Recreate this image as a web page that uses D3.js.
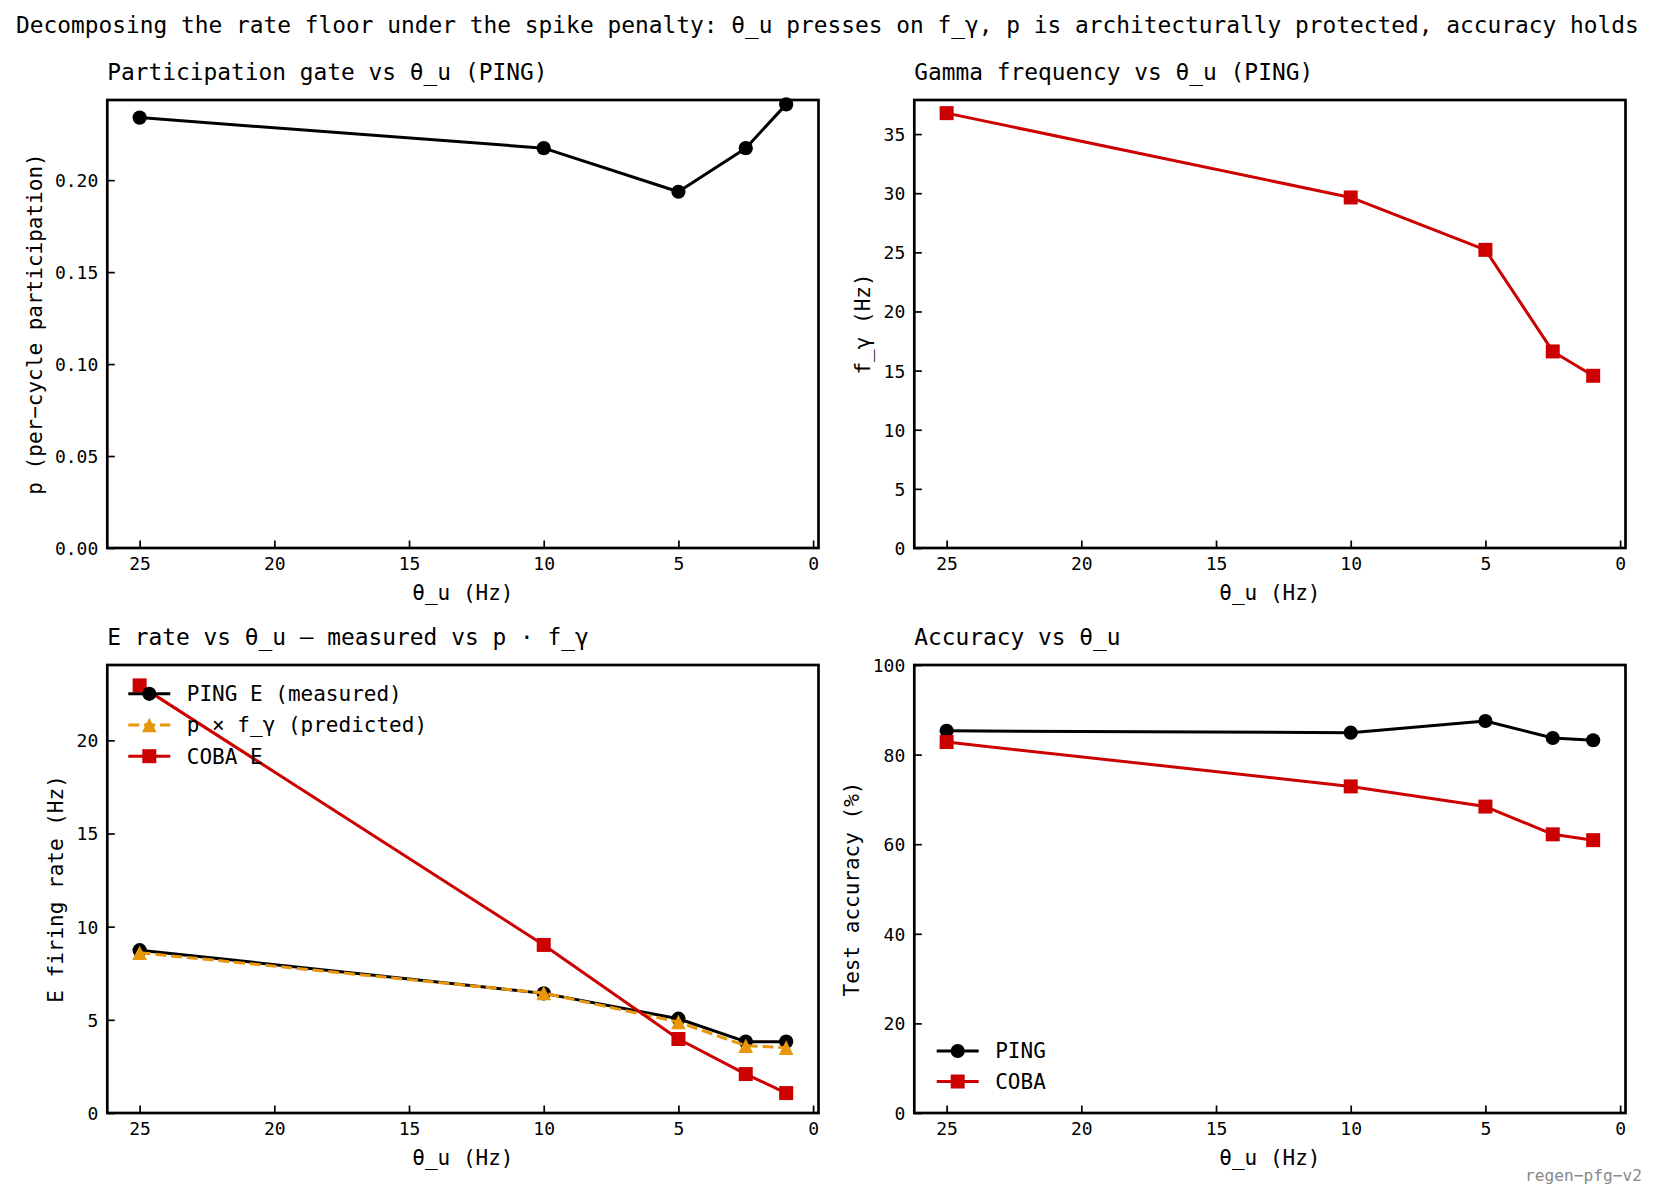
<!DOCTYPE html>
<html>
<head>
<meta charset="utf-8">
<script src="https://cdn.jsdelivr.net/npm/d3@7"></script>
<style>
  html, body { margin: 0; padding: 0; background: #fff; }
  svg text { font-family: "DejaVu Sans Mono", monospace; fill: #000; }
</style>
</head>
<body>
<svg id="chart" width="1658" height="1200"></svg>
<script>
// ---------------- data ----------------
const thetaU = [25, 10, 5, 2.5, 1];
const pingP = [0.234, 0.2174, 0.1937, 0.2174, 0.2412];
const pingFgamma = [36.77, 29.64, 25.21, 16.62, 14.56];
const pingERate = [8.74, 6.42, 5.06, 3.83, 3.83];
const predictedERate = [8.60, 6.44, 4.88, 3.61, 3.51];
const cobaERate = [22.95, 9.02, 3.97, 2.09, 1.07];
const pingAcc = [85.3, 84.9, 87.5, 83.7, 83.2];
const cobaAcc = [82.8, 72.9, 68.4, 62.2, 60.9];

const xTicks = [0, 5, 10, 15, 20, 25];
const pTicks = [0, 0.05, 0.10, 0.15, 0.20];
const fTicks = [0, 5, 10, 15, 20, 25, 30, 35];
const rateTicks = [0, 5, 10, 15, 20];
const accTicks = [0, 20, 40, 60, 80, 100];

const suptitle = "Decomposing the rate floor under the spike penalty: θ_u presses on f_γ, p is architecturally protected, accuracy holds";
const titles = [
  "Participation gate vs θ_u (PING)",
  "Gamma frequency vs θ_u (PING)",
  "E rate vs θ_u — measured vs p · f_γ",
  "Accuracy vs θ_u"
];
const yLabels = ["p (per−cycle participation)", "f_γ (Hz)", "E firing rate (Hz)", "Test accuracy (%)"];
const xLabel = "θ_u (Hz)";
const watermark = "regen−pfg−v2";

// ---------------- styles ----------------
const BLACK = "#000000", RED = "#cc0000", ORANGE = "#e8960a";
const FONT_TITLE = 22.85, FONT_LABEL = 21, FONT_TICK = 18, FONT_LEG = 21;
const LW = 3;
const DASH = "11,4.8";

const svg = d3.select("#chart");

// autoscale top like matplotlib (bottom fixed at 0, 5% margin)
function autoTop(arrs) {
  const all = arrs.flat();
  const mn = d3.min(all), mx = d3.max(all);
  return mx + 0.05 * (mx - mn);
}

const cols = [107.3, 914.3];
const rows = [100, 665];
const W = 711.2, H = 448;

function markerPath(kind) {
  if (kind === "circle") return d3.symbol().type(d3.symbolCircle).size(Math.PI * 7.1 * 7.1)();
  if (kind === "square") return "M-7,-7H7V7H-7Z";
  if (kind === "triangle") return "M0,-7.3L7.3,7.3L-7.3,7.3Z";
}

function panel(idx, yDomain, yTicks, yFmt, series, legend) {
  const left = cols[idx % 2], top = rows[Math.floor(idx / 2)];
  const g = svg.append("g").attr("transform", `translate(${left},${top})`);
  const x = d3.scaleLinear().domain([26.2, -0.2]).range([0, W]);
  const y = d3.scaleLinear().domain(yDomain).range([H, 0]);

  // x axis
  const xa = g.append("g").attr("transform", `translate(0,${H})`)
    .call(d3.axisBottom(x).tickValues(xTicks).tickSize(-7.5).tickPadding(0).tickFormat(d3.format("d")));
  xa.select(".domain").remove();
  xa.selectAll("line").attr("stroke", "#000").attr("stroke-width", 1.7);
  xa.selectAll("text").attr("font-size", FONT_TICK).attr("dy", null).attr("y", 22.4)
    .attr("font-family", "DejaVu Sans Mono");

  // y axis
  const ya = g.append("g")
    .call(d3.axisLeft(y).tickValues(yTicks).tickSize(-7.5).tickPadding(0).tickFormat(yFmt));
  ya.select(".domain").remove();
  ya.selectAll("line").attr("stroke", "#000").attr("stroke-width", 1.7);
  ya.selectAll("text").attr("font-size", FONT_TICK).attr("x", -9).attr("dy", "0.36em")
    .attr("font-family", "DejaVu Sans Mono");

  // frame
  g.append("rect").attr("x", 0).attr("y", 0).attr("width", W).attr("height", H)
    .attr("fill", "none").attr("stroke", "#000").attr("stroke-width", 2.7);

  // series
  series.forEach(s => {
    const line = d3.line().x((d, i) => x(thetaU[i])).y(d => y(d));
    g.append("path").datum(s.values).attr("d", line)
      .attr("fill", "none").attr("stroke", s.color).attr("stroke-width", LW)
      .attr("stroke-dasharray", s.dash ? DASH : null)
      .attr("stroke-linejoin", "round");
    g.selectAll(null).data(s.values).enter().append("path")
      .attr("d", markerPath(s.marker))
      .attr("transform", (d, i) => `translate(${x(thetaU[i])},${y(d)})`)
      .attr("fill", s.color);
  });

  // title
  g.append("text").attr("x", 0).attr("y", -20.5).attr("font-size", FONT_TITLE).text(titles[idx]);
  // x label
  g.append("text").attr("x", W / 2).attr("y", H + 52).attr("text-anchor", "middle")
    .attr("font-size", FONT_LABEL).text(xLabel);
  // y label placed next to tick labels
  const bb = ya.node().getBBox();
  const yl = bb.x - 13.4;
  g.append("text").attr("transform", `translate(${yl},${H / 2}) rotate(-90)`)
    .attr("text-anchor", "middle").attr("font-size", FONT_LABEL).text(yLabels[idx]);

  // legend
  if (legend) {
    legend.items.forEach((it, k) => {
      const ry = legend.rowY(k);
      const lg = g.append("g").attr("transform", `translate(${legend.x},${ry})`);
      lg.append("line").attr("x1", 0).attr("x2", 42).attr("y1", 0).attr("y2", 0)
        .attr("stroke", it.color).attr("stroke-width", LW)
        .attr("stroke-dasharray", it.dash ? DASH : null);
      lg.append("path").attr("d", markerPath(it.marker)).attr("transform", "translate(21,0)")
        .attr("fill", it.color);
      lg.append("text").attr("x", 58.5).attr("y", 0).attr("dy", "0.35em")
        .attr("font-size", FONT_LEG).text(it.label);
    });
  }
}

const fmt2 = d3.format(".2f"), fmtD = d3.format("d");

panel(0, [0, autoTop([pingP])], pTicks, fmt2,
  [{ values: pingP, color: BLACK, marker: "circle" }]);
panel(1, [0, autoTop([pingFgamma])], fTicks, fmtD,
  [{ values: pingFgamma, color: RED, marker: "square" }]);

const s3 = [
  { values: pingERate, color: BLACK, marker: "circle", label: "PING E (measured)" },
  { values: predictedERate, color: ORANGE, marker: "triangle", dash: true, label: "p × f_γ (predicted)" },
  { values: cobaERate, color: RED, marker: "square", label: "COBA E" }
];
panel(2, [0, autoTop([pingERate, predictedERate, cobaERate])], rateTicks, fmtD, s3,
  { x: 21, rowY: k => 28.8 + k * 31.2, items: s3 });

const s4 = [
  { values: pingAcc, color: BLACK, marker: "circle", label: "PING" },
  { values: cobaAcc, color: RED, marker: "square", label: "COBA" }
];
panel(3, [0, 100], accTicks, fmtD, s4,
  { x: 22.4, rowY: k => H - 62 + k * 30.5, items: s4 });

// suptitle
svg.append("text").attr("x", 16).attr("y", 33).attr("font-size", FONT_TITLE).text(suptitle);
// watermark
svg.append("text").attr("x", 1642).attr("y", 1181).attr("text-anchor", "end")
  .attr("font-size", 16.2).style("fill", "#888").text(watermark);
</script>
</body>
</html>
